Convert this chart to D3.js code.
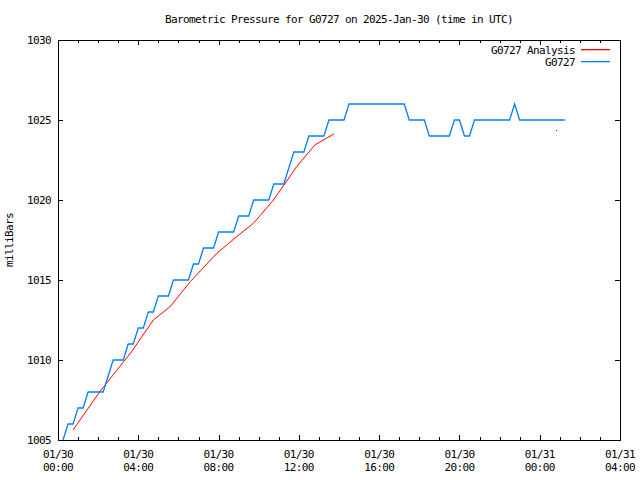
<!DOCTYPE html>
<html>
<head>
<meta charset="utf-8">
<script src="https://cdn.jsdelivr.net/npm/d3@7/dist/d3.min.js"></script>
<style>
  html, body { margin: 0; padding: 0; background: #fff; }
  svg { display: block; }
  text { font-family: "DejaVu Sans Mono", "Liberation Mono", monospace; font-size: 11px; letter-spacing: -0.62px; fill: #000; }
</style>
</head>
<body>
<svg id="chart" width="640" height="480"></svg>
<script>
// ---- data (times are hours:minutes since 2025-01-30 00:00 UTC) ----
const titleText = "Barometric Pressure for G0727 on 2025-Jan-30 (time in UTC)";
const yLabel = "milliBars";
const seriesNames = ["G0727 Analysis", "G0727"];
const yTicks = [1005, 1010, 1015, 1020, 1025, 1030];

// observed station pressure (vertices of the plotted line)
const obsTimes = ["00:15","00:30","00:45","01:00","01:15","01:30","02:15","02:30","02:45","03:15",
  "03:30","03:45","04:00","04:15","04:30","04:45","05:00","05:30","05:45","06:30",
  "06:45","07:00","07:15","07:45","08:00","08:45","09:00","09:30","09:45","10:30",
  "10:45","11:15","11:30","11:45","12:15","12:30","13:15","13:30","14:15","14:30",
  "17:15","17:30","18:15","18:30","19:30","19:45","20:00","20:15","20:30","20:45",
  "22:30","22:45","23:00","25:15"];
const obsValues = [1005,1006,1006,1007,1007,1008,1008,1009,1010,1010,
  1011,1011,1012,1012,1013,1013,1014,1014,1015,1015,
  1016,1016,1017,1017,1018,1018,1019,1019,1020,1020,
  1021,1021,1022,1023,1023,1024,1024,1025,1025,1026,
  1026,1025,1025,1024,1024,1025,1025,1024,1024,1025,
  1025,1026,1025,1025];

// analysis pressure
const anaTimes = ["00:45","02:05","03:40","04:45","05:35","06:35","07:55","08:54","09:44","10:44",
  "11:19","11:53","12:48","13:45"];
const anaValues = [1005.63,1008.02,1010.52,1012.5,1013.33,1014.89,1016.67,1017.71,1018.54,1020.0,
  1021.04,1022.08,1023.44,1024.13];
const anaLoneTime = ["24:48"];
const anaLoneValue = [1024.36];

// ---- helpers ----
const t0 = Date.UTC(2025, 0, 30, 0, 0);
const parseT = s => { const [h, m] = s.split(":").map(Number); return new Date(t0 + (h * 60 + m) * 60000); };

const svg = d3.select("#chart");
const plot = { left: 58, right: 620, top: 40, bottom: 440 };

const x = d3.scaleUtc()
  .domain([new Date(t0), new Date(t0 + 28 * 3600000)])
  .range([plot.left, plot.right]);
const y = d3.scaleLinear().domain([1005, 1030]).range([plot.bottom, plot.top]);

const blue = "#0080ff", red = "#ff0000";

// clip
svg.append("clipPath").attr("id", "clip").append("rect")
  .attr("x", plot.left).attr("y", plot.top)
  .attr("width", plot.right - plot.left).attr("height", plot.bottom - plot.top);

// ticks (inward, mirrored like gnuplot)
const majorX = x.ticks(d3.utcHour.every(4));
const minorX = x.ticks(d3.utcHour.every(1));
const ticksG = svg.append("g").attr("stroke", "#000").attr("stroke-width", 1).attr("shape-rendering", "crispEdges");
minorX.forEach(d => {
  const px = Math.round(x(d)) + 0.5;
  ticksG.append("line").attr("x1", px).attr("x2", px).attr("y1", plot.bottom).attr("y2", plot.bottom - 3);
  ticksG.append("line").attr("x1", px).attr("x2", px).attr("y1", plot.top).attr("y2", plot.top + 3);
});
majorX.forEach(d => {
  const px = Math.round(x(d)) + 0.5;
  ticksG.append("line").attr("x1", px).attr("x2", px).attr("y1", plot.bottom).attr("y2", plot.bottom - 5);
  ticksG.append("line").attr("x1", px).attr("x2", px).attr("y1", plot.top).attr("y2", plot.top + 5);
});
yTicks.forEach(v => {
  const py = Math.round(y(v)) + 0.5;
  ticksG.append("line").attr("x1", plot.left).attr("x2", plot.left + 5).attr("y1", py).attr("y2", py);
  ticksG.append("line").attr("x1", plot.right).attr("x2", plot.right - 5).attr("y1", py).attr("y2", py);
});

// border
svg.append("rect")
  .attr("x", plot.left + 0.5).attr("y", plot.top + 0.5)
  .attr("width", plot.right - plot.left).attr("height", plot.bottom - plot.top)
  .attr("fill", "none").attr("stroke", "#000").attr("stroke-width", 1).attr("shape-rendering", "crispEdges");

// y tick labels
svg.append("g").selectAll("text").data(yTicks).join("text")
  .attr("x", 51).attr("y", d => y(d)).attr("dy", "0.35em")
  .attr("text-anchor", "end").text(d => d);

// x tick labels (two lines)
const fmt1 = d3.utcFormat("%m/%d"), fmt2 = d3.utcFormat("%H:%M");
const xl = svg.append("g").selectAll("text").data(majorX).join("text")
  .attr("text-anchor", "middle");
xl.append("tspan").attr("x", d => x(d)).attr("y", 458).text(d => fmt1(d));
xl.append("tspan").attr("x", d => x(d)).attr("y", 471).text(d => fmt2(d));

// title
svg.append("text").attr("x", (plot.left + plot.right) / 2).attr("y", 23)
  .attr("text-anchor", "middle").text(titleText);

// y label
svg.append("text").attr("transform", `translate(13,${(plot.top + plot.bottom) / 2}) rotate(-90)`)
  .attr("text-anchor", "middle").text(yLabel);

// lines
const obs = obsTimes.map((t, i) => ({ t: parseT(t), v: obsValues[i] }));
const ana = anaTimes.map((t, i) => ({ t: parseT(t), v: anaValues[i] }));
const line = d3.line().x(d => x(d.t)).y(d => y(d.v));
const gLines = svg.append("g").attr("clip-path", "url(#clip)");
gLines.append("path").datum(ana).attr("d", line)
  .style("fill", "none").style("stroke", red).style("stroke-width", 1);
gLines.append("path").datum(obs).attr("d", line)
  .style("fill", "none").style("stroke", blue).style("stroke-width", 1.3);
gLines.selectAll("rect.lone").data(anaLoneTime.map((t, i) => ({ t: parseT(t), v: anaLoneValue[i] })))
  .join("rect").attr("class", "lone")
  .attr("x", d => Math.round(x(d.t))).attr("y", d => Math.round(y(d.v))).attr("width", 1).attr("height", 1)
  .style("fill", red);

// legend
const legend = svg.append("g");
[[seriesNames[0], red, 50], [seriesNames[1], blue, 62]].forEach(([name, col, ly]) => {
  legend.append("text").attr("x", 575).attr("y", ly).attr("dy", "0.35em")
    .attr("text-anchor", "end").text(name);
  legend.append("rect").attr("x", 581).attr("y", ly - 1).attr("width", 29).attr("height", 1.3)
    .style("fill", col);
});
</script>
</body>
</html>
